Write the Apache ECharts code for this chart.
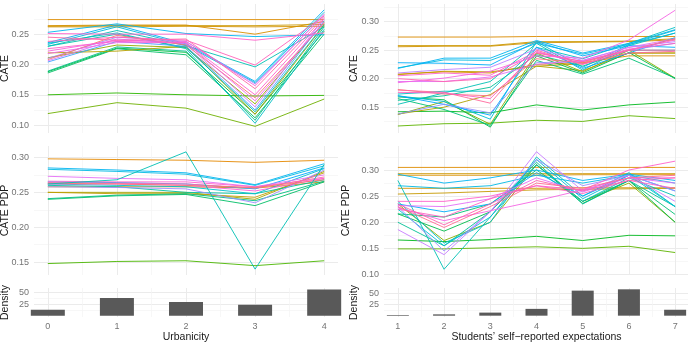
<!DOCTYPE html>
<html><head><meta charset="utf-8">
<script src="https://cdn.jsdelivr.net/npm/echarts@6/dist/echarts.min.js"></script>
<style>html,body{margin:0;padding:0;background:#fff}#c{width:688px;height:342px}</style>
</head><body><div id="c"></div>
<script>
// ---------- data ----------
const urbanicity = [0, 1, 2, 3, 4];
const expectations = [1, 2, 3, 4, 5, 6, 7];

// CATE vs Urbanicity (one row per line)
const cateUrban = [
  [0.274,0.274,0.274,0.274,0.274],
  [0.264,0.265,0.265,0.250,0.271],
  [0.263,0.264,0.264,0.264,0.266],
  [0.262,0.262,0.263,0.262,0.263],
  [0.119,0.137,0.128,0.098,0.143],
  [0.150,0.153,0.150,0.148,0.149],
  [0.188,0.227,0.220,0.118,0.255],
  [0.186,0.226,0.216,0.112,0.250],
  [0.189,0.229,0.222,0.108,0.262],
  [0.219,0.222,0.230,0.118,0.265],
  [0.211,0.232,0.228,0.135,0.270],
  [0.235,0.252,0.226,0.103,0.258],
  [0.230,0.250,0.228,0.122,0.266],
  [0.230,0.256,0.231,0.196,0.262],
  [0.253,0.267,0.251,0.246,0.249],
  [0.236,0.265,0.234,0.172,0.290],
  [0.233,0.262,0.232,0.170,0.286],
  [0.204,0.238,0.230,0.125,0.272],
  [0.210,0.245,0.238,0.168,0.281],
  [0.206,0.242,0.234,0.130,0.276],
  [0.208,0.248,0.232,0.145,0.268],
  [0.218,0.236,0.236,0.140,0.270],
  [0.226,0.238,0.236,0.150,0.275],
  [0.222,0.240,0.238,0.165,0.283],
  [0.245,0.240,0.242,0.160,0.278],
  [0.238,0.245,0.240,0.199,0.280],
  [0.251,0.250,0.250,0.240,0.252]
];
const cateUrbanHue = [45,50,62,55,110,125,135,150,165,75,95,195,180,185,225,230,210,250,270,290,15,310,330,320,350,340,330];

// CATE PDP vs Urbanicity
const pdpUrban = [
  [0.298,0.297,0.296,0.293,0.296],
  [0.148,0.151,0.152,0.145,0.152],
  [0.258,0.258,0.258,0.256,0.265],
  [0.250,0.250,0.250,0.240,0.280],
  [0.250,0.248,0.248,0.243,0.278],
  [0.240,0.245,0.247,0.231,0.265],
  [0.241,0.246,0.248,0.238,0.266],
  [0.260,0.258,0.250,0.248,0.268],
  [0.262,0.260,0.258,0.248,0.284],
  [0.285,0.282,0.278,0.261,0.291],
  [0.283,0.280,0.276,0.260,0.288],
  [0.265,0.264,0.262,0.255,0.285],
  [0.258,0.257,0.255,0.235,0.282],
  [0.273,0.270,0.268,0.258,0.275],
  [0.262,0.262,0.260,0.252,0.270],
  [0.266,0.265,0.265,0.258,0.270],
  [0.264,0.263,0.262,0.256,0.272],
  [0.263,0.262,0.260,0.257,0.268],
  [0.262,0.268,0.308,0.140,0.290]
];
const pdpUrbanHue = [40,120,50,85,70,150,160,175,200,225,215,240,270,300,320,330,345,15,185];

// CATE vs Students' self-reported expectations
const cateExpect = [
  [0.273,0.273,0.273,0.274,0.274,0.274,0.274],
  [0.256,0.257,0.257,0.263,0.264,0.265,0.268],
  [0.258,0.258,0.258,0.265,0.265,0.266,0.270],
  [0.208,0.212,0.210,0.225,0.228,0.240,0.240],
  [0.207,0.213,0.212,0.222,0.226,0.245,0.245],
  [0.117,0.121,0.122,0.127,0.125,0.135,0.130],
  [0.142,0.143,0.140,0.154,0.145,0.154,0.159],
  [0.137,0.160,0.120,0.245,0.212,0.250,0.201],
  [0.138,0.150,0.172,0.222,0.214,0.245,0.245],
  [0.168,0.163,0.115,0.240,0.210,0.246,0.200],
  [0.165,0.146,0.118,0.232,0.208,0.236,0.201],
  [0.162,0.170,0.185,0.242,0.222,0.250,0.250],
  [0.155,0.175,0.195,0.262,0.215,0.258,0.280],
  [0.173,0.178,0.178,0.255,0.235,0.262,0.290],
  [0.170,0.160,0.129,0.265,0.220,0.260,0.285],
  [0.218,0.236,0.236,0.267,0.245,0.262,0.286],
  [0.219,0.233,0.232,0.262,0.243,0.260,0.280],
  [0.228,0.227,0.224,0.265,0.240,0.258,0.255],
  [0.170,0.155,0.136,0.255,0.218,0.245,0.272],
  [0.138,0.155,0.140,0.228,0.230,0.250,0.262],
  [0.210,0.216,0.220,0.252,0.232,0.255,0.265],
  [0.195,0.195,0.203,0.225,0.232,0.255,0.270],
  [0.181,0.173,0.170,0.235,0.228,0.250,0.270],
  [0.180,0.176,0.157,0.250,0.226,0.245,0.248],
  [0.176,0.175,0.165,0.246,0.230,0.252,0.262],
  [0.205,0.210,0.206,0.248,0.225,0.250,0.268],
  [0.200,0.195,0.200,0.245,0.230,0.250,0.250],
  [0.193,0.201,0.213,0.240,0.236,0.268,0.320]
];
const cateExpectHue = [45,55,62,50,70,115,130,100,80,140,155,170,185,195,205,225,215,235,240,265,280,300,10,355,335,330,345,315];

// CATE PDP vs Students' self-reported expectations
const pdpExpect = [
  [0.305,0.305,0.305,0.305,0.305,0.305,0.305],
  [0.293,0.293,0.293,0.293,0.293,0.293,0.293],
  [0.290,0.290,0.290,0.290,0.291,0.291,0.291],
  [0.265,0.265,0.265,0.265,0.266,0.266,0.266],
  [0.254,0.256,0.259,0.262,0.263,0.264,0.265],
  [0.149,0.149,0.151,0.153,0.150,0.154,0.142],
  [0.166,0.163,0.167,0.173,0.165,0.175,0.174],
  [0.235,0.165,0.200,0.310,0.240,0.275,0.200],
  [0.216,0.183,0.220,0.310,0.236,0.280,0.200],
  [0.216,0.210,0.235,0.300,0.240,0.280,0.215],
  [0.200,0.155,0.220,0.315,0.235,0.280,0.230],
  [0.280,0.110,0.210,0.310,0.240,0.285,0.250],
  [0.240,0.160,0.200,0.325,0.250,0.295,0.230],
  [0.225,0.155,0.210,0.320,0.245,0.290,0.230],
  [0.292,0.275,0.285,0.300,0.280,0.292,0.280],
  [0.270,0.265,0.270,0.290,0.275,0.290,0.275],
  [0.235,0.220,0.235,0.295,0.250,0.290,0.260],
  [0.230,0.145,0.220,0.320,0.270,0.290,0.260],
  [0.186,0.138,0.220,0.335,0.260,0.290,0.240],
  [0.232,0.230,0.245,0.285,0.258,0.285,0.275],
  [0.228,0.203,0.222,0.241,0.262,0.285,0.285],
  [0.240,0.240,0.250,0.270,0.262,0.300,0.317],
  [0.225,0.210,0.245,0.270,0.255,0.280,0.265],
  [0.235,0.195,0.235,0.280,0.260,0.280,0.285],
  [0.230,0.190,0.230,0.275,0.265,0.285,0.290]
];
const pdpExpectHue = [45,60,50,55,65,115,130,100,140,155,170,185,195,205,225,215,235,270,285,300,315,330,335,345,0];

// Density bars
const densityUrban = [13, 38, 29.5, 23.5, 56.5];
const densityExpect = [1.5, 3, 7, 15.5, 57, 60, 13.5];

// ---------- helpers ----------
function hcl(h, c, l) {
  const hr = h * Math.PI / 180;
  const U = c * Math.cos(hr), V = c * Math.sin(hr);
  const Y = l > 8 ? Math.pow((l + 16) / 116, 3) : l / 903.3;
  const un = 0.1978398, vn = 0.4683363;
  const up = U / (13 * l) + un, vp = V / (13 * l) + vn;
  const X = Y * 9 * up / (4 * vp);
  const Z = Y * (12 - 3 * up - 20 * vp) / (4 * vp);
  const lin = [3.240479*X - 1.537150*Y - 0.498535*Z,
               -0.969256*X + 1.875992*Y + 0.041556*Z,
               0.055648*X - 0.204043*Y + 1.057311*Z];
  const g = v => { v = Math.max(0, Math.min(1, v));
    return Math.round(255 * (v <= 0.0031308 ? 12.92 * v : 1.055 * Math.pow(v, 1/2.4) - 0.055)); };
  return 'rgb(' + lin.map(g).join(',') + ')';
}

const FONT = 'Liberation Sans, Arial, Helvetica, sans-serif';
const TICK_COLOR = '#747474';
const MAJOR = '#EBEBEB', MINOR = '#F4F4F4';

const gridBox = [
  {left: 34,  top: 4,   width: 304, height: 129},
  {left: 384, top: 4,   width: 305, height: 129},
  {left: 34,  top: 146, width: 304, height: 129},
  {left: 384, top: 146, width: 305, height: 129},
  {left: 34,  top: 288, width: 304, height: 29},
  {left: 384, top: 288, width: 305, height: 29}
];
const grids = gridBox.map(b => Object.assign({containLabel: false, outerBoundsMode: 'none'}, b));

const xSpec = {
  L: {min: -0.2, max: 4.2, major: urbanicity, minor: [0.5,1.5,2.5,3.5], name: 'Urbanicity'},
  R: {min: 0.7, max: 7.3, major: expectations, minor: [1.5,2.5,3.5,4.5,5.5,6.5], name: 'Students\u2019 self\u2212reported expectations'}
};
// titleX: horizontal centre of the rotated y-axis title
const panelSpec = [
  {col: 'L', ymin: 0.087, ymax: 0.2997, ymaj: [0.10,0.15,0.20,0.25], ymin2: [0.125,0.175,0.225,0.275], yname: 'CATE', dec: 2, titleX: 5},
  {col: 'R', ymin: 0.1047, ymax: 0.331, ymaj: [0.15,0.20,0.25,0.30], ymin2: [0.125,0.175,0.225,0.275,0.325], yname: 'CATE', dec: 2, titleX: 354.5},
  {col: 'L', ymin: 0.1316, ymax: 0.3164, ymaj: [0.15,0.20,0.25,0.30], ymin2: [0.175,0.225,0.275], yname: 'CATE PDP', dec: 2, titleX: 5},
  {col: 'R', ymin: 0.099, ymax: 0.346, ymaj: [0.10,0.15,0.20,0.25,0.30], ymin2: [0.125,0.175,0.225,0.275,0.325], yname: 'CATE PDP', dec: 2, titleX: 346.5},
  {col: 'L', ymin: -2.85, ymax: 59.85, ymaj: [25,50], ymin2: [12.5,37.5], yname: 'Density', dec: 0, titleX: 5},
  {col: 'R', ymin: -3, ymax: 63, ymaj: [25,50], ymin2: [12.5,37.5], yname: 'Density', dec: 0, titleX: 354.5}
];

const xAxes = [], yAxes = [], titles = [];
panelSpec.forEach((p, g) => {
  const xs = xSpec[p.col];
  const bottom = g >= 4;
  xAxes.push({
    type: 'value', gridIndex: g, min: xs.min, max: xs.max,
    axisLine: {show: false},
    axisTick: {show: false, customValues: xs.major},
    axisLabel: {show: bottom, customValues: xs.major, color: TICK_COLOR, fontSize: 9, fontFamily: FONT, margin: 5,
                hideOverlap: false, formatter: v => String(Math.round(v))},
    splitLine: {show: true, lineStyle: {color: MAJOR, width: 1}},
    name: bottom ? xs.name : '', nameLocation: 'middle', nameGap: 15,
    nameTextStyle: {fontSize: 10.5, color: '#1a1a1a', fontFamily: FONT}
  });
  xAxes.push({
    type: 'value', gridIndex: g, min: xs.min, max: xs.max,
    axisLine: {show: false}, axisLabel: {show: false},
    axisTick: {show: false, customValues: xs.minor},
    splitLine: {show: true, lineStyle: {color: MINOR, width: 0.7}}
  });
  yAxes.push({
    type: 'value', gridIndex: g, min: p.ymin, max: p.ymax,
    axisLine: {show: false},
    axisTick: {show: false, customValues: p.ymaj},
    axisLabel: {show: true, customValues: p.ymaj, color: TICK_COLOR, fontSize: 9, fontFamily: FONT, margin: 5,
                hideOverlap: false, formatter: v => v.toFixed(p.dec)},
    splitLine: {show: true, lineStyle: {color: MAJOR, width: 1}}
  });
  yAxes.push({
    type: 'value', gridIndex: g, min: p.ymin, max: p.ymax,
    axisLine: {show: false}, axisLabel: {show: false},
    axisTick: {show: false, customValues: p.ymin2},
    splitLine: {show: true, lineStyle: {color: MINOR, width: 0.7}}
  });
  const b = gridBox[g];
  titles.push({
    type: 'text', x: p.titleX, y: b.top + b.height / 2, rotation: Math.PI / 2, silent: true,
    style: {text: p.yname, fill: '#1a1a1a', font: '10.5px ' + FONT, align: 'center', verticalAlign: 'middle'}
  });
});

const series = [];
function addLines(g, xs, lines, hues) {
  lines.forEach((vals, i) => {
    const col = hcl(hues[i], 100, 65);
    series.push({
      type: 'line', xAxisIndex: 2 * g, yAxisIndex: 2 * g,
      data: xs.map((x, k) => [x, vals[k]]),
      symbol: 'none', showSymbol: false, silent: true, animation: false,
      lineStyle: {width: 0.9, color: col}, itemStyle: {color: col}, z: 3
    });
  });
}
addLines(0, urbanicity, cateUrban, cateUrbanHue);
addLines(1, expectations, cateExpect, cateExpectHue);
addLines(2, urbanicity, pdpUrban, pdpUrbanHue);
addLines(3, expectations, pdpExpect, pdpExpectHue);

series.push({
  type: 'bar', xAxisIndex: 8, yAxisIndex: 8, barWidth: 34, silent: true, animation: false,
  data: urbanicity.map((x, k) => [x, densityUrban[k]]), itemStyle: {color: '#595959'}
});
series.push({
  type: 'bar', xAxisIndex: 10, yAxisIndex: 10, barWidth: 22, silent: true, animation: false,
  data: expectations.map((x, k) => [x, densityExpect[k]]), itemStyle: {color: '#595959'}
});

const chart = echarts.init(document.getElementById('c'), null, {renderer: 'canvas'});
chart.setOption({
  backgroundColor: '#ffffff',
  animation: false,
  textStyle: {fontFamily: FONT},
  grid: grids,
  xAxis: xAxes,
  yAxis: yAxes,
  graphic: {elements: titles},
  series: series
});
</script>
</body></html>
